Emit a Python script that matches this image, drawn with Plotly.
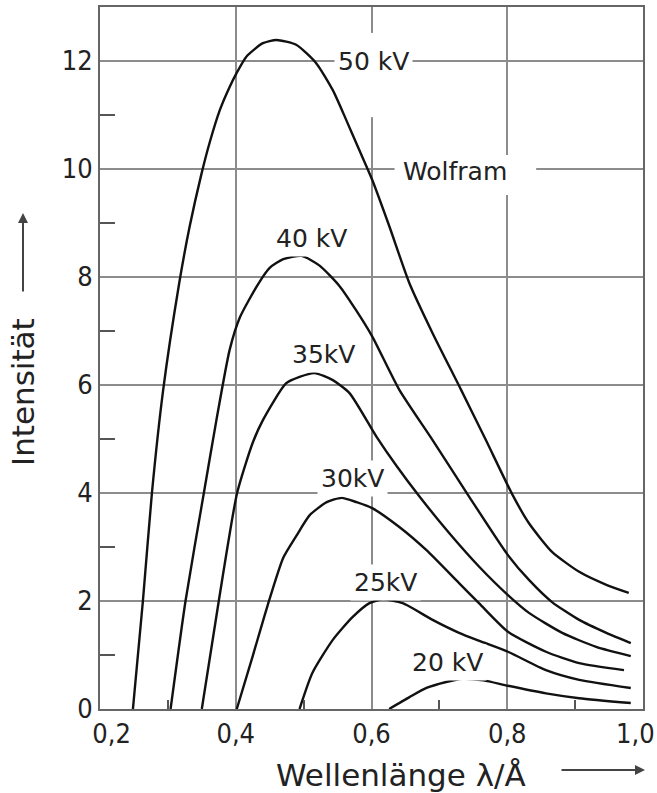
import plotly.graph_objects as go

# ---- data ----
lam_50 = [0.2485, 0.2632, 0.2765, 0.293, 0.3165, 0.332, 0.3495, 0.3618, 0.3765, 0.391, 0.401, 0.4156, 0.44, 0.46, 0.489, 0.5185, 0.543, 0.5627, 0.582, 0.601, 0.6265, 0.656, 0.69, 0.732, 0.7685, 0.808, 0.832, 0.866, 0.906, 0.946, 0.979]
int_50 = [0, 2, 4, 5.9, 7.87, 8.93, 9.91, 10.5, 11.09, 11.52, 11.77, 12.08, 12.33, 12.39, 12.3, 11.96, 11.46, 10.91, 10.35, 9.8, 8.93, 7.88, 6.96, 5.91, 4.98, 3.96, 3.44, 2.91, 2.54, 2.3, 2.15]

lam_40 = [0.304, 0.326, 0.353, 0.3715, 0.391, 0.406, 0.433, 0.45, 0.47, 0.497, 0.5235, 0.553, 0.577, 0.601, 0.641, 0.69, 0.744, 0.801, 0.832, 0.866, 0.906, 0.946, 0.982]
int_40 = [0, 2, 4, 5.35, 6.65, 7.25, 7.87, 8.17, 8.33, 8.39, 8.21, 7.83, 7.39, 6.9, 5.91, 4.98, 3.93, 2.85, 2.39, 1.98, 1.65, 1.41, 1.22]

lam_35 = [0.35, 0.375, 0.402, 0.425, 0.44, 0.474, 0.494, 0.516, 0.543, 0.5676, 0.607, 0.637, 0.671, 0.715, 0.759, 0.801, 0.832, 0.881, 0.931, 0.982]
int_35 = [0, 2, 4, 4.93, 5.35, 6.03, 6.15, 6.22, 6.09, 5.85, 5.05, 4.5, 3.93, 3.25, 2.63, 2.11, 1.78, 1.41, 1.15, 0.98]

lam_30 = [0.4015, 0.425, 0.447, 0.47, 0.489, 0.509, 0.534, 0.556, 0.578, 0.601, 0.641, 0.681, 0.729, 0.759, 0.801, 0.857, 0.906, 0.972]
int_30 = [0, 0.98, 1.92, 2.8, 3.2, 3.59, 3.83, 3.91, 3.83, 3.72, 3.37, 2.94, 2.33, 1.95, 1.43, 1.06, 0.85, 0.72]

lam_25 = [0.494, 0.513, 0.543, 0.572, 0.597, 0.616, 0.646, 0.69, 0.729, 0.759, 0.801, 0.857, 0.906, 0.982]
int_25 = [0, 0.67, 1.28, 1.7, 1.96, 2.03, 1.96, 1.65, 1.41, 1.26, 1.06, 0.72, 0.54, 0.39]

lam_20 = [0.626, 0.656, 0.681, 0.71, 0.734, 0.765, 0.801, 0.857, 0.906, 0.982]
int_20 = [0, 0.22, 0.39, 0.5, 0.56, 0.53, 0.43, 0.29, 0.2, 0.11]

series = [
    ("50 kV", lam_50, int_50),
    ("40 kV", lam_40, int_40),
    ("35kV", lam_35, int_35),
    ("30kV", lam_30, int_30),
    ("25kV", lam_25, int_25),
    ("20 kV", lam_20, int_20),
]

# curve labels: (text, x, y)
labels = [
    ("50 kV", 0.603, 12.0),
    ("40 kV", 0.512, 8.72),
    ("35kV", 0.530, 6.57),
    ("30kV", 0.572, 4.26),
    ("25kV", 0.621, 2.35),
    ("20 kV", 0.712, 0.87),
]
material_label = ("Wolfram", 0.7235, 9.95)

x_ticks = [0.2, 0.4, 0.6, 0.8, 1.0]
x_ticktext = ["\u00a0\u00a0\u00a00,2", "0,4", "0,6", "0,8", "1,0\u00a0\u00a0"]
y_ticks = [0, 2, 4, 6, 8, 10, 12]
y_ticktext = ["0", "2", "4", "6", "8", "10", "12"]
x_minor = [0.3, 0.5, 0.7, 0.9]
y_minor = [1, 3, 5, 7, 9, 11]

x_title = "Wellenlänge λ/Å"
y_title = "Intensität"

# ---- figure ----
fig = go.Figure()
for name, xs, ys in series:
    fig.add_trace(go.Scatter(
        x=xs, y=ys, mode="lines", name=name,
        line=dict(color="#111111", width=2.4, shape="spline", smoothing=0.6),
        showlegend=False, hoverinfo="skip",
    ))

tick_font = dict(family="Liberation Sans Narrow, DejaVu Sans Condensed, Liberation Sans, sans-serif",
                 size=27, color="#222222")
grid_col = "#8c8c8c"
frame_col = "#666666"

fig.update_xaxes(
    range=[0.2, 1.0], showline=True, mirror=True, linecolor=frame_col, linewidth=2,
    showgrid=True, gridcolor=grid_col, gridwidth=2, zeroline=False, automargin=False,
    tickmode="array", tickvals=x_ticks, ticktext=x_ticktext, ticks="",
    tickfont=tick_font, ticklabeloverflow="allow",
    minor=dict(tickmode="array", tickvals=x_minor, ticks="inside", ticklen=9,
               tickwidth=2, tickcolor="#555555", showgrid=False),
)
fig.update_yaxes(
    range=[0, 13], showline=True, mirror=True, linecolor=frame_col, linewidth=2,
    showgrid=True, gridcolor=grid_col, gridwidth=2, zeroline=False, automargin=False,
    tickmode="array", tickvals=y_ticks, ticktext=y_ticktext, ticks="",
    tickfont=tick_font,
    minor=dict(tickmode="array", tickvals=y_minor, ticks="inside", ticklen=15,
               tickwidth=2, tickcolor="#555555", showgrid=False),
)

label_font = dict(family="DejaVu Sans", size=25, color="#222222")
annotations = []
for text, lx, ly in labels:
    annotations.append(dict(x=lx, y=ly, xref="x", yref="y", text=text, showarrow=False,
                            font=label_font, bgcolor="white", borderpad=3))
annotations.append(dict(x=material_label[1], y=material_label[2], xref="x", yref="y",
                        text=material_label[0], showarrow=False, font=label_font))

title_font = dict(family="DejaVu Sans", size=31, color="#222222")
annotations += [
    dict(x=0.555, y=-0.094, xref="paper", yref="paper", text=x_title, showarrow=False,
         font=title_font, xanchor="center", yanchor="middle"),
    dict(x=-0.1418, y=0.4516, xref="paper", yref="paper", text=y_title, showarrow=False,
         font=title_font, textangle=-90, xanchor="center", yanchor="middle"),
    dict(x=1.0037, y=-0.0869, xref="paper", yref="paper", text="", showarrow=True,
         ax=-85, ay=0, arrowhead=2, arrowsize=1, arrowwidth=2, arrowcolor="#444444", standoff=0),
    dict(x=-0.1418, y=0.7066, xref="paper", yref="paper", text="", showarrow=True,
         ax=0, ay=80, arrowhead=2, arrowsize=1, arrowwidth=2, arrowcolor="#444444", standoff=0),
]

shapes = [
    # gap in the grid behind "Wolfram"
    dict(type="rect", xref="x", yref="y", x0=0.634, x1=0.8426, y0=9.52, y1=10.26,
         fillcolor="white", line=dict(width=0), layer="above"),
    # gap in the 0.6 grid line near the top
    dict(type="rect", xref="x", yref="y", x0=0.597, x1=0.606, y0=10.96, y1=12.52,
         fillcolor="white", line=dict(width=0), layer="above"),
]

fig.update_layout(
    width=657, height=793, autosize=False,
    margin=dict(l=100, r=14, t=7, b=84),
    paper_bgcolor="white", plot_bgcolor="white",
    annotations=annotations, shapes=shapes,
)

fig.write_html("out.html", config={"displayModeBar": False},
               post_script="document.body.style.margin='0';document.body.style.overflow='hidden';")
